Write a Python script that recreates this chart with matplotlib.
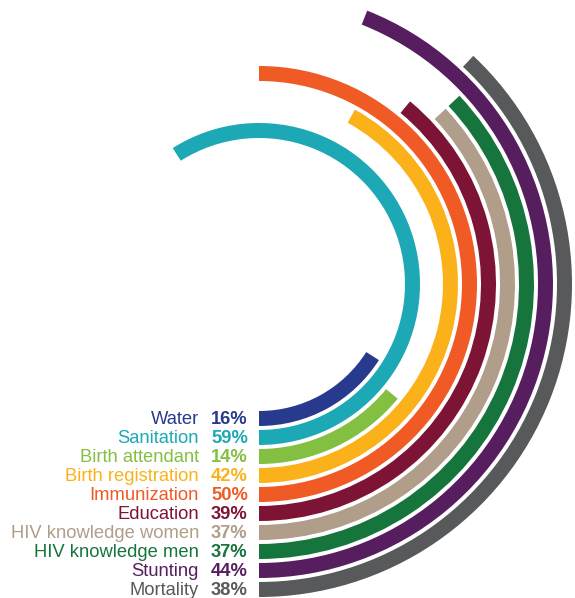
import numpy as np
import matplotlib
matplotlib.use("Agg")
import matplotlib.pyplot as plt

categories = ["Water", "Sanitation", "Birth attendant", "Birth registration", "Immunization",
              "Education", "HIV knowledge women", "HIV knowledge men", "Stunting", "Mortality"]
values = [16, 59, 14, 42, 50, 39, 37, 37, 44, 38]
colors = ["#283a8e", "#1ca8b4", "#83bf41", "#fbb21a", "#f05a24",
          "#7d1436", "#b09d8a", "#16753c", "#561e5f", "#58595b"]

W, H = 575, 598
fig = plt.figure(figsize=(W / 100, H / 100), dpi=100)

cx, cy = 259, 284          # centre in pixels from top-left
R = 330                    # polar radius extent in pixels
r0, step, thick = 134.5, 19, 15

pax = fig.add_axes([(cx - R) / W, (H - cy - R) / H, 2 * R / W, 2 * R / H], projection="polar")
pax.set_theta_zero_location("S")
pax.set_theta_direction(1)
pax.set_ylim(0, R)
pax.axis("off")
radii = [r0 + step * i for i in range(len(values))]
for r, v, c in zip(radii, values, colors):
    pax.bar(0, thick, width=np.deg2rad(v * 3.6), bottom=r - thick / 2, align="edge",
            color=c, edgecolor="none")

tax = fig.add_axes([0, 0, 1, 1])
tax.set_xlim(0, W)
tax.set_ylim(H, 0)
tax.axis("off")
tax.patch.set_alpha(0)
for r, name, v, c in zip(radii, categories, values, colors):
    y = cy + r + 1
    tax.text(199, y, name, ha="right", va="center", color=c, fontsize=13.2,
             family="Liberation Sans")
    tax.text(211, y, f"{v}%", ha="left", va="center", color=c, fontsize=13.2,
             fontweight="bold", family="Liberation Sans")

fig.savefig("out.png", dpi=100)
